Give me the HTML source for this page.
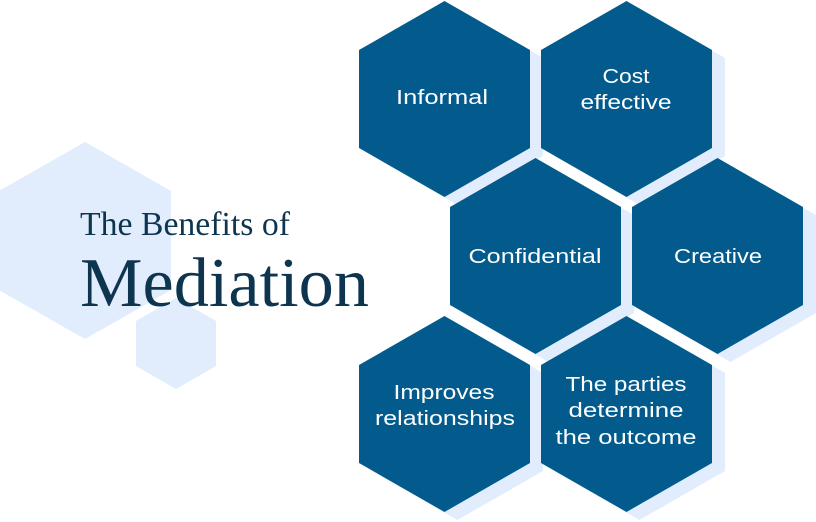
<!DOCTYPE html>
<html><head><meta charset="utf-8"><style>html,body{margin:0;padding:0;background:#fff}svg{display:block}</style></head>
<body>
<svg width="816" height="522" viewBox="0 0 816 522" xmlns="http://www.w3.org/2000/svg">
<g fill="#e1edfd">
<polygon points="85,142 171,191 171,290 85,339 -1,290 -1,191"/>
<polygon points="176,298 216,321 216,366 176,389 136,366 136,321"/>
</g>
<g fill="#e1edfd" transform="translate(13,8)">
<polygon points="444.5,1 530,50 530,148 444.5,197 359,148 359,50"/>
<polygon points="626.5,1 712,50 712,148 626.5,197 541,148 541,50"/>
<polygon points="535.5,158 621,207 621,305 535.5,354 450,305 450,207"/>
<polygon points="717.5,158 803,207 803,305 717.5,354 632,305 632,207"/>
<polygon points="444.5,316 530,365 530,463 444.5,512 359,463 359,365"/>
<polygon points="626.5,316 712,365 712,463 626.5,512 541,463 541,365"/>
</g>
<g fill="#025b8c">
<polygon points="444.5,1 530,50 530,148 444.5,197 359,148 359,50"/>
<polygon points="626.5,1 712,50 712,148 626.5,197 541,148 541,50"/>
<polygon points="535.5,158 621,207 621,305 535.5,354 450,305 450,207"/>
<polygon points="717.5,158 803,207 803,305 717.5,354 632,305 632,207"/>
<polygon points="444.5,316 530,365 530,463 444.5,512 359,463 359,365"/>
<polygon points="626.5,316 712,365 712,463 626.5,512 541,463 541,365"/>
</g>
<g fill="#0d3550" font-family="Liberation Serif, serif">
<text x="80" y="235" font-size="34" textLength="210" lengthAdjust="spacingAndGlyphs">The Benefits of</text>
<text x="80" y="306" font-size="70" textLength="289" lengthAdjust="spacingAndGlyphs">Mediation</text>
</g>
<g fill="#fff" font-family="Liberation Sans, sans-serif" font-size="20" text-anchor="middle" lengthAdjust="spacingAndGlyphs">
<text x="442" y="104" textLength="92" lengthAdjust="spacingAndGlyphs">Informal</text>
<text x="626" y="83" textLength="47" lengthAdjust="spacingAndGlyphs">Cost</text>
<text x="626" y="109" textLength="91" lengthAdjust="spacingAndGlyphs">effective</text>
<text x="535" y="263" textLength="133" lengthAdjust="spacingAndGlyphs">Confidential</text>
<text x="718" y="263" textLength="88" lengthAdjust="spacingAndGlyphs">Creative</text>
<text x="444" y="399" textLength="101" lengthAdjust="spacingAndGlyphs">Improves</text>
<text x="445" y="425" textLength="140" lengthAdjust="spacingAndGlyphs">relationships</text>
<text x="626" y="391" textLength="121" lengthAdjust="spacingAndGlyphs">The parties</text>
<text x="626" y="417" textLength="115" lengthAdjust="spacingAndGlyphs">determine</text>
<text x="626" y="444" textLength="141" lengthAdjust="spacingAndGlyphs">the outcome</text>
</g>
</svg>
</body></html>
